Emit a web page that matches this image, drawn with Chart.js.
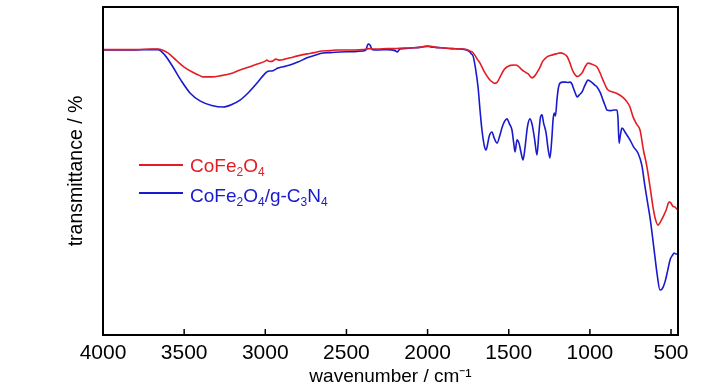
<!DOCTYPE html>
<html>
<head>
<meta charset="utf-8">
<script src="https://cdn.jsdelivr.net/npm/chart.js@4/dist/chart.umd.min.js"></script>
<style>
  body { margin: 0; background: #fff; }
  #caja { position: relative; width: 728px; height: 390px; }
  .leyenda { position: absolute; font-family: "Liberation Sans", Arial, sans-serif; font-size: 19px; line-height: 20px; white-space: nowrap; }
  .leyenda span { font-size: 12px; vertical-align: -4px; }
  .linea { position: absolute; height: 2px; width: 44px; }
</style>
</head>
<body>
<div id="caja">
  <canvas id="grafico" width="728" height="390"></canvas>
  <div class="linea" style="left:139px;top:164px;background:#e21e24"></div>
  <div class="leyenda" style="left:190px;top:156px;color:#e21e24">CoFe<span>2</span>O<span>4</span></div>
  <div class="linea" style="left:139px;top:192px;background:#1919cd"></div>
  <div class="leyenda" style="left:190px;top:186px;color:#1919cd">CoFe<span>2</span>O<span>4</span>/g-C<span>3</span>N<span>4</span></div>
</div>
<script>
// CoFe2O4 (rojo)
let ondaRojo = [4000, 3900, 3800, 3700, 3661, 3600, 3550, 3500, 3450, 3400, 3384, 3330, 3280, 3200, 3156, 3100, 3050, 3000, 2990, 2975,
  2955, 2935, 2910, 2880, 2848, 2800, 2743, 2700, 2650, 2600, 2558, 2500, 2450, 2400, 2360, 2340, 2300, 2250, 2200, 2150,
  2100, 2050, 2000, 1980, 1950, 1900, 1850, 1800, 1760, 1740, 1726, 1710, 1690, 1677, 1650, 1620, 1600, 1585, 1570, 1550,
  1530, 1511, 1490, 1461, 1440, 1420, 1400, 1380, 1357, 1340, 1320, 1307, 1290, 1264, 1230, 1200, 1184, 1160, 1140, 1125,
  1110, 1100, 1085, 1075, 1060, 1048, 1030, 1011, 990, 970, 956, 940, 919, 900, 888, 860, 833, 800, 770, 753,
  734, 712, 691, 670, 648, 630, 611, 595, 580, 565, 549, 530, 512, 500, 490, 475, 465, 457];
let rojo = [87.0, 87.0, 87.0, 87.2, 87.2, 86.0, 83.8, 81.7, 80.2, 79.0, 78.7, 78.7, 79.0, 79.9, 80.8, 81.7, 82.6, 83.5, 83.8, 83.4,
  83.5, 84.1, 83.8, 84.1, 84.5, 85.1, 85.7, 86.1, 86.6, 86.7, 86.9, 86.9, 86.9, 87.0, 87.3, 87.2, 87.2, 87.3, 87.3, 87.5,
  87.5, 87.7, 88.0, 88.0, 87.7, 87.5, 87.3, 87.2, 87.0, 86.6, 86.3, 85.4, 83.8, 82.9, 80.2, 78.0, 77.1, 76.7, 77.1, 79.0,
  80.8, 81.7, 82.2, 82.3, 81.9, 80.9, 80.2, 79.6, 78.4, 79.0, 80.5, 81.7, 83.5, 84.8, 85.4, 85.8, 86.0, 85.7, 84.9, 83.2,
  81.1, 80.0, 79.0, 78.8, 79.3, 79.9, 81.7, 82.9, 82.6, 82.2, 81.7, 80.2, 77.7, 75.6, 74.7, 74.1, 73.6, 72.6, 71.0, 69.5,
  66.5, 64.3, 62.5, 56.4, 51.2, 45.4, 39.0, 35.1, 33.5, 34.5, 36.0, 38.1, 40.5, 40.2, 39.3, 39.0, 38.4, 38.1];

// CoFe2O4/g-C3N4 (azul)
let ondaAzul = [4000, 3800, 3700, 3661, 3620, 3569, 3520, 3464, 3400, 3330, 3260, 3200, 3156, 3100, 3051, 3020, 2990, 2975, 2959, 2940,
  2922, 2900, 2880, 2848, 2800, 2743, 2700, 2644, 2600, 2540, 2450, 2398, 2380, 2367, 2355, 2340, 2300, 2250, 2200, 2188,
  2170, 2150, 2100, 2050, 2000, 1980, 1950, 1900, 1850, 1800, 1760, 1740, 1730, 1720, 1705, 1689, 1677, 1665, 1650, 1640,
  1630, 1620, 1603, 1590, 1572, 1554, 1540, 1525, 1511, 1495, 1480, 1470, 1461, 1449, 1435, 1425, 1412, 1400, 1385, 1369,
  1355, 1340, 1326, 1315, 1305, 1295, 1285, 1270, 1258, 1246, 1235, 1227, 1220, 1212, 1203, 1195, 1184, 1166, 1150, 1135,
  1122, 1110, 1104, 1090, 1079, 1065, 1048, 1030, 1011, 990, 970, 956, 935, 919, 905, 895, 870, 850, 833, 827,
  820, 812, 802, 780, 753, 730, 704, 680, 660, 645, 630, 614, 599, 585, 568, 555, 537, 520, 506, 490,
  481, 470, 457];
let azul = [86.9, 86.9, 87.0, 87.0, 85.4, 81.7, 77.7, 73.8, 71.3, 70.0, 69.5, 70.4, 71.6, 74.1, 76.8, 78.7, 80.2, 80.5, 80.5, 80.9,
  81.4, 81.7, 81.9, 82.3, 83.2, 84.5, 85.2, 86.0, 86.1, 86.3, 86.4, 86.6, 86.9, 88.7, 88.4, 87.0, 86.9, 87.0, 86.7, 86.3,
  87.2, 87.3, 87.5, 87.7, 88.1, 87.8, 87.7, 87.5, 87.3, 87.2, 86.9, 86.3, 85.7, 85.1, 81.4, 75.6, 68.6, 62.5, 57.6, 56.4,
  58.2, 60.7, 61.9, 60.1, 58.5, 61.0, 63.4, 65.2, 65.9, 64.3, 62.5, 58.8, 55.8, 59.5, 58.2, 55.8, 53.4, 57.0, 63.4, 65.9,
  64.0, 59.5, 54.9, 61.0, 66.2, 67.1, 64.6, 61.6, 57.0, 54.0, 59.5, 65.5, 67.7, 66.8, 71.6, 75.0, 76.8, 77.1, 77.1, 77.0,
  77.1, 76.5, 75.6, 73.8, 72.6, 73.2, 74.1, 76.2, 77.7, 77.1, 76.2, 75.6, 73.8, 71.6, 69.8, 68.6, 68.4, 68.6, 68.6, 66.2,
  58.5, 61.0, 63.1, 61.6, 59.5, 57.3, 55.5, 51.8, 45.1, 40.5, 36.0, 29.9, 23.8, 18.3, 13.7, 14.0, 16.2, 19.8, 22.9, 24.4,
  25.0, 24.7, 24.7];

let marcasX = [4000, 3500, 3000, 2500, 2000, 1500, 1000, 500];

let fuente = '"Liberation Sans", Arial, sans-serif';

function puntos(xs, ys) {
  return xs.map((x, i) => ({ x: x, y: ys[i] }));
}

// marco completo y marcas hacia dentro
let marco = {
  id: 'marco',
  afterDatasetsDraw(chart) {
    let ctx = chart.ctx;
    let a = chart.chartArea;
    let escala = chart.scales.x;
    ctx.save();
    ctx.strokeStyle = '#000';
    ctx.lineWidth = 2;
    ctx.strokeRect(a.left, a.top, a.right - a.left, a.bottom - a.top);
    ctx.lineWidth = 1.5;
    escala.ticks.forEach(t => {
      let px = escala.getPixelForValue(t.value);
      ctx.beginPath();
      ctx.moveTo(px, a.bottom);
      ctx.lineTo(px, a.bottom - 6);
      ctx.stroke();
    });
    ctx.restore();
  }
};

let ctx = document.getElementById('grafico').getContext('2d');

new Chart(ctx, {
  type: 'line',
  data: {
    datasets: [{
      label: 'CoFe2O4',
      data: puntos(ondaRojo, rojo),
      borderColor: '#e21e24',
      borderWidth: 1.6,
      pointRadius: 0,
      cubicInterpolationMode: 'monotone',
      fill: false
    }, {
      label: 'CoFe2O4/g-C3N4',
      data: puntos(ondaAzul, azul),
      borderColor: '#1919cd',
      borderWidth: 1.6,
      pointRadius: 0,
      cubicInterpolationMode: 'monotone',
      fill: false
    }]
  },
  options: {
    responsive: false,
    animation: false,
    devicePixelRatio: 1,
    layout: { padding: { left: 50, right: 50, top: 7, bottom: 0 } },
    plugins: { legend: { display: false }, tooltip: { enabled: false } },
    scales: {
      x: {
        type: 'linear',
        reverse: true,
        min: 457,
        max: 4000,
        afterBuildTicks: s => { s.ticks = marcasX.map(v => ({ value: v })); },
        afterFit: s => { s.height = 55; },
        grid: { display: false },
        border: { display: false },
        ticks: {
          color: '#000', font: { family: fuente, size: 21 }, padding: -2, maxRotation: 0, autoSkip: false,
          callback: v => String(v)
        },
        title: { display: true, text: 'wavenumber / cm\u207B\u00B9', color: '#000', font: { family: fuente, size: 19 }, padding: { top: 0, bottom: 2 } }
      },
      y: {
        min: 0,
        max: 100,
        afterFit: s => { s.width = 53; },
        grid: { display: false },
        border: { display: false },
        ticks: { display: false },
        title: { display: true, text: 'transmittance / %', color: '#000', font: { family: fuente, size: 19.5 }, padding: { top: 15, bottom: 0 } }
      }
    }
  },
  plugins: [marco]
});
</script>
</body>
</html>
